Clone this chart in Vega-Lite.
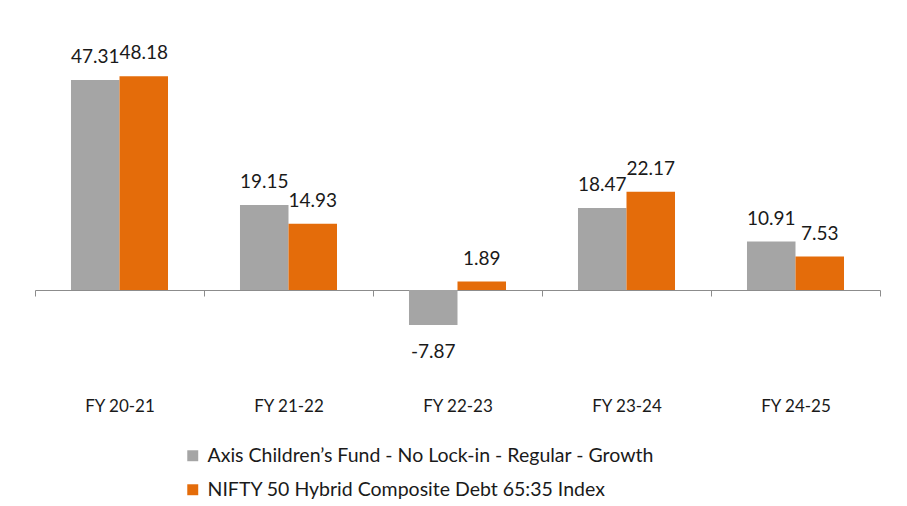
{
  "$schema": "https://vega.github.io/schema/vega-lite/v6.json",
  "autosize": {"type": "none"},
  "padding": {"left": 35, "top": 46, "right": 27, "bottom": 216},
  "width": 845,
  "height": 244,
  "background": "white",
  "config": {
    "view": {"stroke": null},
    "font": "Lato",
    "text": {"font": "Lato"}
  },
  "data": {
    "values": [
      {"year": "FY 20-21", "series": "Axis Children’s Fund - No Lock-in - Regular  - Growth", "value": 47.31},
      {"year": "FY 20-21", "series": "NIFTY 50 Hybrid Composite Debt 65:35 Index", "value": 48.18},
      {"year": "FY 21-22", "series": "Axis Children’s Fund - No Lock-in - Regular  - Growth", "value": 19.15},
      {"year": "FY 21-22", "series": "NIFTY 50 Hybrid Composite Debt 65:35 Index", "value": 14.93},
      {"year": "FY 22-23", "series": "Axis Children’s Fund - No Lock-in - Regular  - Growth", "value": -7.87},
      {"year": "FY 22-23", "series": "NIFTY 50 Hybrid Composite Debt 65:35 Index", "value": 1.89},
      {"year": "FY 23-24", "series": "Axis Children’s Fund - No Lock-in - Regular  - Growth", "value": 18.47},
      {"year": "FY 23-24", "series": "NIFTY 50 Hybrid Composite Debt 65:35 Index", "value": 22.17},
      {"year": "FY 24-25", "series": "Axis Children’s Fund - No Lock-in - Regular  - Growth", "value": 10.91},
      {"year": "FY 24-25", "series": "NIFTY 50 Hybrid Composite Debt 65:35 Index", "value": 7.53}
    ]
  },
  "encoding": {
    "x": {
      "field": "year",
      "type": "nominal",
      "sort": null,
      "scale": {"paddingInner": 0, "paddingOuter": 0},
      "axis": {
        "title": null,
        "labelAngle": 0,
        "domainColor": "#8c8c8c",
        "domainWidth": 1,
        "tickColor": "#8c8c8c",
        "tickWidth": 1,
        "tickSize": 6,
        "tickBand": "extent",
        "labelPadding": 102,
        "labelBaseline": "top",
        "labelFont": "Lato",
        "labelFontSize": 17,
        "labelColor": "#1a1a1a",
        "grid": false
      }
    },
    "xOffset": {
      "field": "series",
      "type": "nominal",
      "sort": null,
      "scale": {"paddingInner": 0, "paddingOuter": 0.742}
    },
    "y": {
      "field": "value",
      "type": "quantitative",
      "scale": {"domain": [0, 55], "nice": false, "zero": false},
      "axis": null
    }
  },
  "layer": [
    {
      "mark": {"type": "bar", "clip": false},
      "encoding": {
        "color": {
          "field": "series",
          "type": "nominal",
          "sort": null,
          "scale": {"range": ["#A5A5A5", "#E46C0A"]},
          "legend": {
            "title": null,
            "orient": "none",
            "legendX": 148,
            "legendY": 400,
            "direction": "vertical",
            "symbolType": "square",
            "symbolSize": 120,
            "symbolStrokeWidth": 0,
            "labelFont": "Lato",
            "labelFontSize": 19.5,
            "labelColor": "#1a1a1a",
            "labelOffset": 5,
            "rowPadding": 13,
            "padding": 0,
            "labelLimit": 700
          }
        }
      }
    },
    {
      "transform": [{"filter": "datum.value >= 0"}],
      "mark": {"type": "text", "dy": -23, "baseline": "middle", "fontSize": 19, "color": "#1a1a1a", "font": "Lato"},
      "encoding": {"text": {"field": "value", "type": "nominal"}}
    },
    {
      "transform": [{"filter": "datum.value < 0"}],
      "mark": {"type": "text", "dy": 27, "baseline": "middle", "fontSize": 19, "color": "#1a1a1a", "font": "Lato"},
      "encoding": {"text": {"field": "value", "type": "nominal"}}
    }
  ]
}
